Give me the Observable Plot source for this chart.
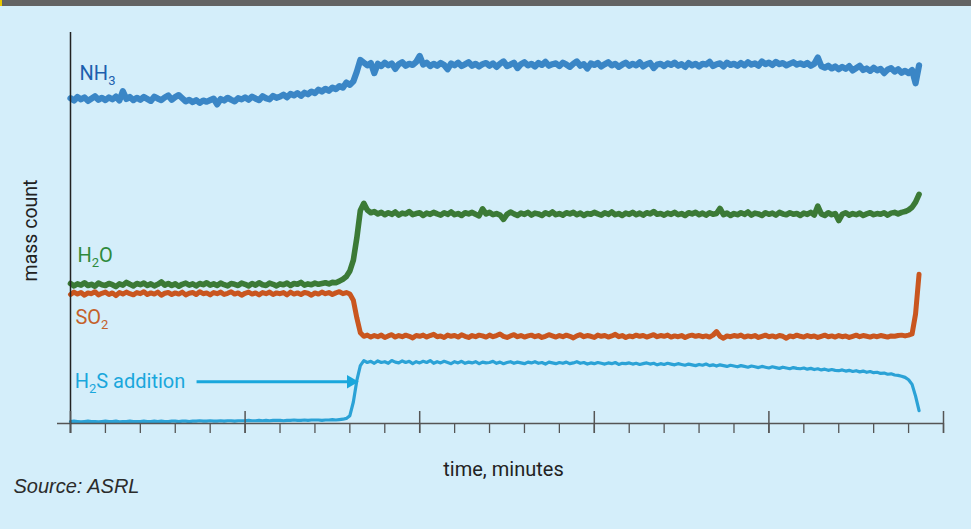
<!DOCTYPE html>
<html>
<head>
<meta charset="utf-8">
<script src="https://cdn.jsdelivr.net/npm/d3@7"></script>
<script src="https://cdn.jsdelivr.net/npm/@observablehq/plot@0.6"></script>
<style>
html,body{margin:0;padding:0;background:#d4eefa;width:971px;height:529px;overflow:hidden;}
#bar{height:6px;background:#636363;border-left:2px solid #e8c800;box-sizing:border-box;}
#chart svg{display:block;}
</style>
</head>
<body>
<div id="bar"></div>
<div id="chart"></div>
<script>
// sampling: one reading every 0.1 minute-unit (244 readings)
const time = d3.range(244).map(i => i / 10);

const nh3 = [
83.2,82.6,83.5,82.9,83.4,82.5,83.1,83.7,82.8,83.3,
82.7,83.4,82.9,83.6,82.6,85.0,83.0,83.5,82.7,83.3,
82.8,83.5,83.0,82.5,83.6,83.1,82.7,83.4,83.9,82.8,
83.5,84.0,83.2,82.4,82.8,82.2,82.7,82.0,82.6,82.3,
82.7,83.1,81.6,83.0,82.6,83.3,82.8,82.4,83.2,82.9,
83.4,82.8,83.6,83.1,82.7,83.7,83.2,82.9,83.8,83.3,
83.6,84.1,83.4,84.3,83.9,84.5,83.8,84.6,84.2,84.9,
84.5,85.4,84.9,85.6,85.1,85.9,85.5,86.3,85.9,87.2,
86.6,87.5,90.0,93.0,92.3,91.6,92.2,89.6,92.0,91.4,
92.3,91.6,92.1,90.7,91.9,92.4,91.5,92.0,91.7,92.5,
94.0,91.8,92.3,91.4,92.0,91.5,92.2,91.7,90.6,92.1,
91.6,92.3,91.4,91.9,92.4,91.5,92.0,91.3,91.9,92.2,
91.5,92.1,91.2,92.0,92.6,91.4,91.8,92.3,90.9,91.9,
92.4,91.6,92.0,91.3,92.2,91.7,92.5,91.5,91.9,92.1,
91.4,92.3,91.8,91.2,92.0,92.6,91.5,91.9,90.8,92.1,
91.7,92.2,91.3,91.9,92.4,91.6,92.0,91.2,91.8,92.3,
91.5,92.0,91.6,92.4,91.3,91.9,92.2,90.9,91.8,92.0,
91.4,92.1,91.7,92.3,91.5,91.9,91.2,92.2,91.6,92.0,
91.3,92.0,91.8,92.5,91.4,91.9,92.1,91.3,92.3,91.7,
92.0,91.5,92.2,91.6,92.4,91.8,92.1,91.5,92.6,91.9,
92.3,91.7,92.5,91.9,92.2,91.6,92.0,92.4,91.8,92.1,
91.7,92.2,91.5,92.0,93.6,91.4,91.0,91.5,90.8,91.3,
90.6,91.2,90.7,91.4,90.3,90.9,91.5,90.4,90.8,90.2,
91.0,90.3,90.7,89.6,90.5,90.9,90.0,90.6,89.7,90.2,
89.6,90.4,87.0,91.6];

const h2o = [
35.8,35.2,35.7,35.4,36.0,35.3,35.6,35.1,35.9,35.5,
35.3,35.8,35.5,35.0,35.7,35.4,36.1,35.6,35.2,35.8,
35.5,35.9,35.3,35.7,35.2,35.6,36.2,35.4,35.8,35.3,
35.7,35.1,35.6,35.9,35.4,35.7,35.2,35.8,35.5,36.0,
35.4,35.7,35.3,35.9,35.5,35.2,35.8,35.6,35.3,35.9,
35.6,35.2,35.8,35.4,36.0,35.5,35.3,35.9,35.6,35.2,
35.7,35.5,35.9,35.3,35.8,35.6,36.1,35.4,35.7,35.5,
35.9,35.6,35.8,36.0,35.7,36.1,36.0,36.4,36.9,37.6,
39.0,41.8,47.5,54.5,56.3,54.6,53.9,54.2,53.6,54.0,
53.4,53.9,53.5,54.1,53.3,53.8,53.6,54.2,53.4,53.7,
53.9,53.2,53.8,53.5,54.0,53.6,53.3,53.9,53.5,54.1,
53.4,53.7,53.2,53.9,53.6,54.0,53.5,53.1,54.9,53.6,
54.0,53.4,53.7,53.3,52.2,53.5,54.1,53.6,53.2,53.8,
53.5,54.0,53.3,53.8,53.6,53.2,53.9,53.5,54.1,53.4,
53.7,53.3,53.9,53.6,54.0,53.4,53.8,53.2,53.7,53.5,
54.0,53.6,53.3,53.9,53.5,54.1,53.4,53.7,53.2,53.8,
53.5,54.0,53.4,53.8,53.3,53.9,53.6,54.2,53.5,53.7,
53.3,53.8,53.5,54.0,53.4,53.7,53.2,53.9,53.6,54.0,
53.4,53.8,53.3,53.9,53.5,53.7,55.0,53.4,53.8,53.2,
53.7,53.4,53.9,53.5,54.1,53.3,53.8,53.6,53.2,53.9,
53.5,53.8,53.3,54.0,53.6,53.4,53.9,53.5,53.7,53.2,
53.8,53.5,54.0,53.3,55.6,53.6,53.2,53.9,53.4,53.7,
51.9,53.5,53.9,53.3,53.7,53.4,53.8,53.2,53.6,53.9,
53.4,53.7,53.5,53.9,53.3,53.8,54.0,53.6,54.0,54.2,
54.6,55.3,56.6,58.6];

const so2 = [
33.0,33.6,33.1,33.5,32.8,33.4,33.2,33.7,32.9,33.3,
33.6,33.0,33.4,32.7,33.5,33.1,33.6,33.2,32.9,33.5,
33.2,33.7,33.0,33.4,33.1,33.6,32.8,33.3,33.5,33.0,
33.4,33.1,33.6,32.9,33.3,33.5,33.0,33.7,33.2,33.4,
32.9,33.5,33.2,33.6,33.0,33.3,33.7,33.1,33.4,32.8,
33.3,33.6,33.1,33.4,32.9,33.5,33.2,33.6,33.0,33.4,
33.2,33.5,32.9,33.6,33.1,33.4,33.0,33.5,33.3,32.8,
33.4,33.1,33.6,33.2,33.5,33.0,33.4,33.7,33.2,33.5,
33.1,31.5,27.0,23.2,22.3,22.6,22.1,22.5,22.2,22.6,
22.0,22.4,22.7,22.1,22.5,22.2,22.6,22.3,21.9,22.5,
22.3,22.6,22.1,22.5,22.8,22.2,22.4,22.0,22.6,22.3,
22.5,22.1,22.7,22.3,22.0,22.5,22.2,22.6,22.4,22.1,
22.6,22.2,22.5,22.9,22.3,22.0,22.4,22.7,22.2,22.5,
22.1,22.4,22.6,22.2,22.5,22.0,22.3,22.7,22.4,22.1,
22.5,22.2,22.6,22.3,21.9,22.4,22.7,22.2,22.5,22.3,
22.0,22.6,22.3,22.5,22.1,22.4,22.8,22.2,22.5,22.0,
22.4,22.2,22.6,22.3,22.5,22.1,22.4,22.7,22.2,22.5,
22.3,22.6,22.1,22.4,22.2,22.5,22.0,22.4,22.6,22.3,
22.5,22.2,22.4,22.1,22.6,23.5,22.3,21.8,22.4,22.2,
22.5,22.3,22.6,22.1,22.4,22.2,22.5,22.0,22.3,22.6,
22.2,22.4,22.1,22.5,22.3,21.8,22.4,22.2,22.6,22.3,
22.1,22.5,22.2,22.4,22.0,22.3,22.6,22.2,22.4,22.1,
22.5,22.2,22.4,22.0,22.3,22.6,22.2,22.5,22.3,22.1,
22.4,22.2,22.5,22.3,22.1,22.4,22.3,22.5,22.6,22.4,
22.6,22.9,28.0,38.2];

const h2s = [
0.5,0.6,0.5,0.4,0.5,0.6,0.5,0.5,0.4,0.5,
0.6,0.5,0.5,0.6,0.4,0.5,0.5,0.6,0.5,0.5,
0.5,0.6,0.5,0.5,0.6,0.5,0.6,0.5,0.5,0.6,
0.6,0.5,0.6,0.6,0.5,0.6,0.6,0.7,0.6,0.6,
0.7,0.6,0.6,0.7,0.6,0.7,0.7,0.6,0.7,0.7,
0.7,0.8,0.7,0.7,0.8,0.7,0.8,0.7,0.8,0.8,
0.8,0.7,0.8,0.8,0.9,0.8,0.8,0.9,0.8,0.9,
0.9,0.9,0.8,0.9,0.9,1.0,0.9,1.0,1.1,1.3,
2.0,5.5,11.0,14.8,16.1,15.6,15.9,15.4,16.0,15.6,
15.8,15.4,16.1,15.7,15.5,16.0,15.6,15.9,15.3,15.8,
15.5,15.9,15.6,16.1,15.4,15.8,15.5,15.9,15.6,15.3,
15.8,15.5,15.9,15.4,15.7,15.5,15.8,15.3,15.7,15.5,
15.6,15.9,15.4,15.7,15.3,15.6,15.8,15.4,15.7,15.5,
15.3,15.7,15.5,15.8,15.4,15.6,15.2,15.7,15.5,15.3,
15.6,15.4,15.7,15.3,15.5,15.8,15.4,15.6,15.2,15.5,
15.3,15.6,15.4,15.2,15.5,15.3,15.6,15.1,15.4,15.3,
15.5,15.2,15.4,15.1,15.3,15.5,15.2,15.4,15.0,15.3,
15.1,15.4,15.2,15.0,15.3,15.1,14.9,15.2,15.0,14.8,
15.1,14.9,15.2,14.8,15.0,14.7,15.0,14.8,14.6,14.9,
14.7,14.5,14.8,14.6,14.4,14.7,14.5,14.3,14.6,14.4,
14.2,14.5,14.3,14.1,14.4,14.2,14.0,14.3,14.1,14.0,
14.2,13.9,14.1,13.8,14.0,13.7,13.9,13.6,13.8,13.6,
13.5,13.7,13.4,13.6,13.3,13.5,13.2,13.4,13.1,13.3,
13.0,13.1,12.8,12.9,12.6,12.7,12.4,12.3,12.1,11.8,
11.2,10.0,7.0,3.3];

const seriesNames  = ["NH₃", "H₂O", "SO₂", "H₂S"];
const seriesColors = ["#3a86c6", "#3b7a36", "#c9561f", "#2ba2d6"];
const seriesWidths = [6.2, 5.6, 5, 3.2];

const labelText  = ["NH₃", "H₂O", "SO₂", "H₂S addition"];
const labelTime  = [0.26, 0.2, 0.14, 0.12];
const labelValue = [89.4, 43.0, 27.1, 10.7];
const labelColor = ["#1d5fae", "#2e8a3c", "#c4612a", "#1aa7dc"];

// arrow: from label to the moment of H2S addition
const arrowFrom = 3.61, arrowTo = 7.96, arrowTip = 8.03, arrowValue = 10.7;

const minorTicks = [0,1,2,3,4,5,6,7,8,9,10,11,12,13,14,15,16,17,18,19,20,21,22,23,24,25];
const majorTicks = [0,5,10,15,20,25];

const allSeries = [nh3, h2o, so2, h2s];
const rows = allSeries.flatMap((vals, s) => vals.map((v, i) => ({series: seriesNames[s], t: time[i], v})));
const labels = labelText.map((text, i) => ({text, t: labelTime[i], v: labelValue[i], c: labelColor[i]}));

const chart = Plot.plot({
  width: 971,
  height: 523,
  marginTop: 26,
  marginBottom: 106,
  marginLeft: 70,
  marginRight: 28,
  style: {background: "transparent", fontFamily: "Roboto, sans-serif"},
  x: {domain: [0, 25], axis: null},
  y: {domain: [0, 100], axis: null},
  marks: [
    ...allSeries.map((vals, s) => Plot.line(rows.filter(d => d.series === seriesNames[s]), {
      x: "t", y: "v", stroke: seriesColors[s], strokeWidth: seriesWidths[s],
      strokeLinejoin: "round", strokeLinecap: "round"
    })),
    Plot.ruleY([0], {insetLeft: -13, stroke: "#555", strokeWidth: 1.5}),
    Plot.ruleX([0], {insetBottom: -10, stroke: "#222", strokeWidth: 1.5}),
    Plot.ruleX(minorTicks, {x: d => d, y1: 0, y2: 0, insetBottom: -10, stroke: "#555", strokeWidth: 1.3}),
    Plot.ruleX(majorTicks, {x: d => d, y1: 0, y2: 0, insetTop: -12, insetBottom: -10, stroke: "#555", strokeWidth: 1.5}),
    Plot.text(labels, {x: "t", y: "v", text: "text", fill: "c", textAnchor: "start", fontSize: 20}),
    Plot.link([0], {x1: arrowFrom, x2: arrowTo, y1: arrowValue, y2: arrowValue, stroke: "#1aa7dc", strokeWidth: 3}),
    Plot.dot([0], {x: arrowTip, y: arrowValue, symbol: "triangle", rotate: 90, r: 5, fill: "#1aa7dc", stroke: "none"}),
    Plot.text(["time, minutes"], {frameAnchor: "bottom", dx: -3.5, dy: 52, fontSize: 20, fill: "#222"}),
    Plot.text(["mass count"], {frameAnchor: "left", textAnchor: "middle", rotate: -90, dx: -40, dy: 2.5, fontSize: 19.5, fill: "#222"}),
    Plot.text(["Source: ASRL"], {frameAnchor: "bottom-left", textAnchor: "start", dx: -57, dy: 69.7,
      fontSize: 20, fontStyle: "italic", fontFamily: "Liberation Sans, Arial, sans-serif", fill: "#2b2b2b"})
  ]
});

// render subscript digits as real lowered, smaller digits
const subMap = {"₀":"0","₁":"1","₂":"2","₃":"3","₄":"4","₅":"5","₆":"6","₇":"7","₈":"8","₉":"9"};
const NS = "http://www.w3.org/2000/svg";
chart.querySelectorAll("text").forEach(el => {
  const s = el.textContent;
  if (!/[₀-₉]/.test(s)) return;
  const parts = s.split(/([₀-₉]+)/).filter(p => p);
  el.textContent = "";
  let prevSub = false;
  parts.forEach(p => {
    const ts = document.createElementNS(NS, "tspan");
    if (/[₀-₉]/.test(p)) {
      ts.textContent = p.replace(/./g, c => subMap[c]);
      ts.setAttribute("font-size", "65%");
      ts.setAttribute("dy", "5");
      prevSub = true;
    } else {
      ts.textContent = p;
      if (prevSub) ts.setAttribute("dy", "-5");
      prevSub = false;
    }
    el.appendChild(ts);
  });
});

document.getElementById("chart").appendChild(chart);
</script>
</body>
</html>
